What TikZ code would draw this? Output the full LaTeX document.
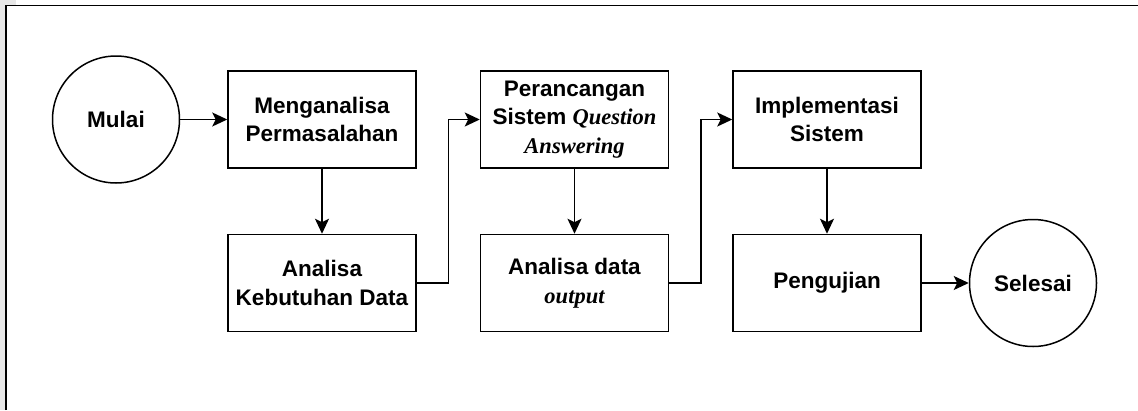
\documentclass[tikz,border=0pt]{standalone}
\usepackage{fontspec}
\setmainfont{Liberation Sans}
\newfontfamily\tnr{Liberation Serif}
\usetikzlibrary{positioning,arrows.meta,calc}
\tikzset{
  block/.style={draw, line width=1.5pt, minimum width=188pt, minimum height=97pt, align=center, inner sep=2pt},
  term/.style={circle, draw, line width=1.5pt, minimum size=127pt, inner sep=0pt},
  flow/.style={line width=1.5pt, -{Stealth[length=15pt, width=14pt, inset=3.5pt]}},
}
\newcommand{\ital}[1]{{\tnr\bfseries\itshape\fontsize{22.5}{28.5}\selectfont #1}}

\begin{document}
\begin{tikzpicture}[x=1pt, y=-1pt, font=\fontsize{22.5}{28.5}\selectfont\bfseries]
\useasboundingbox (0,0) rectangle (1138,410);
\fill[black!9] (0,0) rectangle (5,410);
\fill[black!9] (0,0) rectangle (16,5);
\draw[line width=1.5pt] (6,410) -- (6,5.5) -- (1140,5.5);

\node (mulai) [term] at (116,119.5) {Mulai};
\node (anl)   [block, right=47pt of mulai] {Menganalisa\\Permasalahan};
\node (keb)   [block, below=65pt of anl] {Analisa\\Kebutuhan Data};
\node (qa)    [block, right=63pt of anl] {Perancangan\\Sistem \ital{Question}\\\ital{Answering}};
\node (out)   [block, below=65pt of qa] {Analisa data\\\ital{output}};
\node (impl)  [block, right=63pt of qa] {Implementasi\\Sistem};
\node (uji)   [block, below=65pt of impl] {Pengujian};
\node (selesai) [term, right=47pt of uji] {Selesai};

% main path
\draw[flow] (mulai) -- (anl);
\draw[flow] (anl) -- (keb);
\draw[flow] (qa) -- (out);
\draw[flow] (impl) -- (uji);
\draw[flow] (uji) -- (selesai);

% column jumps
\coordinate (j1) at ($(keb.east)!0.5!(qa.west)$);
\draw[flow] (keb.east) -| (j1) |- (qa.west);
\coordinate (j2) at ($(out.east)!0.5!(impl.west)$);
\draw[flow] (out.east) -| (j2) |- (impl.west);
\end{tikzpicture}
\end{document}
